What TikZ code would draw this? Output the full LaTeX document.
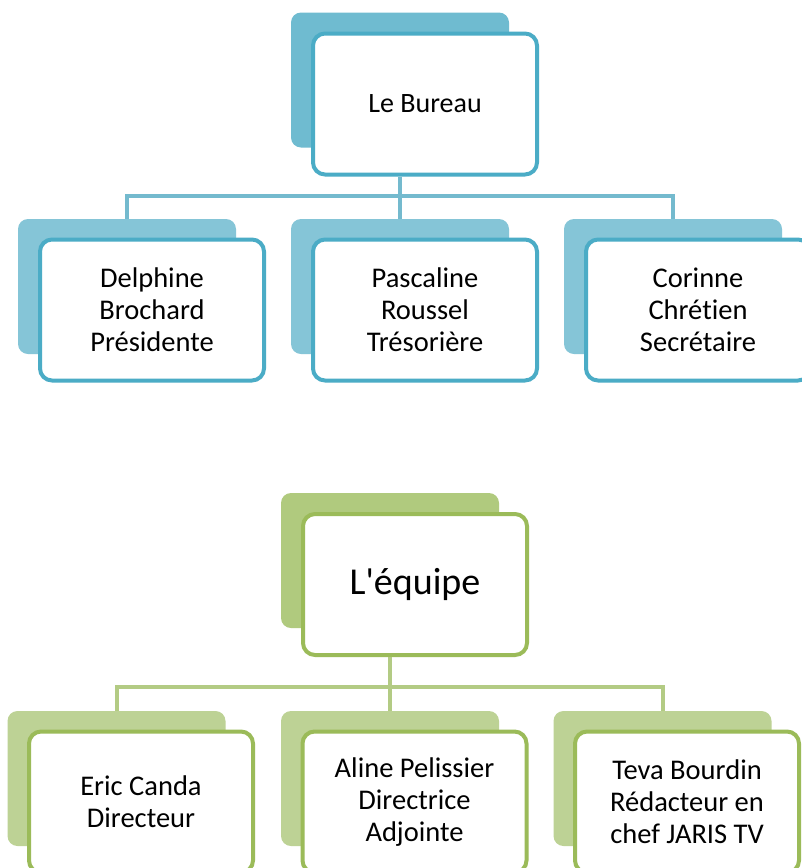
\documentclass[tikz,border=0pt]{standalone}
\usepackage{fontspec}
\setmainfont{Carlito}[Ligatures={TeXOff,NoCommon}]
\definecolor{bstroke}{HTML}{4BACC6}
\definecolor{brootback}{HTML}{6FBBD0}
\definecolor{bchildback}{HTML}{85C5D7}
\definecolor{bline}{HTML}{74BACE}
\definecolor{gstroke}{HTML}{9BBB59}
\definecolor{grootback}{HTML}{B0CA7E}
\definecolor{gchildback}{HTML}{BDD295}
\definecolor{gline}{HTML}{B3CB84}
\begin{document}
\begin{tikzpicture}[x=1pt,y=-1pt,
  backbox/.style={rectangle, rounded corners=10pt, minimum width=218pt, minimum height=135pt, inner sep=0pt, fill=#1},
  frontbox/.style={rectangle, rounded corners=12pt, draw=#1, line width=4pt, fill=white, minimum width=224pt, minimum height=141pt, inner sep=0pt, align=center, font=\fontsize{28.5}{32}\selectfont},
  conn/.style={draw=#1, line width=4pt}
]
\clip (0,0) rectangle (802,868);
\fill[white] (0,0) rectangle (802,868);
% ---------- Le Bureau ----------
\node[backbox=brootback] (bureauB) at (400,80) {};
\node[frontbox=bstroke, font=\fontsize{28}{32}\selectfont] (bureau) at (425,104) {Le Bureau};
\node[backbox=bchildback] (delB) at (127,286.5) {};
\node[frontbox=bstroke] (del) at (152,310) {Delphine\\Brochard\\Présidente};
\node[backbox=bchildback] (pasB) at (400,286.5) {};
\node[frontbox=bstroke] (pas) at (425,310) {Pascaline\\Roussel\\Trésorière};
\node[backbox=bchildback] (corB) at (673,286.5) {};
\node[frontbox=bstroke] (cor) at (698,310) {Corinne\\Chrétien\\Secrétaire};
\coordinate (bj) at (400,196);
\draw[conn=bline] (bureauB.center |- bureau.south) -- (bj);
\draw[conn=bline] (delB.north) |- (bj) -| (corB.north);
\draw[conn=bline] (bj) -- (pasB.north);
% ---------- L'equipe ----------
\node[backbox=grootback] (equipeB) at (390,560.5) {};
\node[frontbox=gstroke, font=\fontsize{38}{44}\selectfont] (equipe) at (415,584.5) {L'équipe};
\node[backbox=gchildback] (ericB) at (116.5,778.5) {};
\node[frontbox=gstroke] (eric) at (141,802) {Eric Canda\\Directeur};
\node[backbox=gchildback] (alineB) at (390,778.5) {};
\node[frontbox=gstroke] (aline) at (414.5,802) {Aline Pelissier\\Directrice\\Adjointe};
\node[backbox=gchildback] (tevaB) at (662.5,778.5) {};
\node[frontbox=gstroke] (teva) at (687,802) {Teva Bourdin\\Rédacteur en\\chef JARIS TV};
\coordinate (gj) at (390,687);
\draw[conn=gline] (equipeB.center |- equipe.south) -- (gj);
\draw[conn=gline] (ericB.north) |- (gj) -| (tevaB.north);
\draw[conn=gline] (gj) -- (alineB.north);
\end{tikzpicture}
\end{document}
